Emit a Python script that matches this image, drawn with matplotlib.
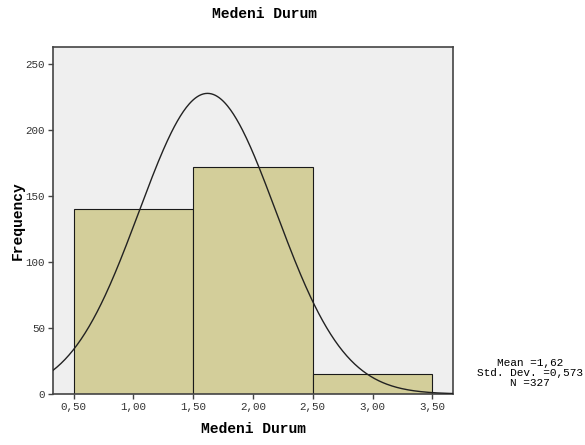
import numpy as np
import matplotlib
matplotlib.use("Agg")
import matplotlib.pyplot as plt

bin_edges = [0.5, 1.5, 2.5, 3.5]
counts = [140, 172, 15]
mean_val = 1.62
std_val = 0.573
n_val = 327
xticks = [0.5, 1.0, 1.5, 2.0, 2.5, 3.0, 3.5]
xtick_labels = ["0,50", "1,00", "1,50", "2,00", "2,50", "3,00", "3,50"]
yticks = [0, 50, 100, 150, 200, 250]

plt.rcParams['font.family'] = ['Liberation Mono', 'DejaVu Sans Mono']

fig = plt.figure(figsize=(5.85, 4.45), dpi=100)
ax = fig.add_axes([0.0906, 0.1146, 0.6838, 0.7804])
ax.set_facecolor('#EFEFEF')

widths = np.diff(bin_edges)
ax.bar(bin_edges[:-1], counts, width=widths, align='edge',
       color='#D3CE9A', edgecolor='#1a1a1a', linewidth=0.8, zorder=2)

xmin, xmax = 0.328, 3.673
xs = np.linspace(xmin, xmax, 400)
bw = widths[0]
ys = n_val * bw / (std_val * np.sqrt(2 * np.pi)) * np.exp(-0.5 * ((xs - mean_val) / std_val) ** 2)
ax.plot(xs, ys, color='#222222', linewidth=1.0, zorder=3)

ax.set_xlim(xmin, xmax)
ax.set_ylim(0, 263)
ax.set_xticks(xticks)
ax.set_xticklabels(xtick_labels)
ax.set_yticks(yticks)
ax.tick_params(axis='both', direction='out', length=3.6, width=1, color='#444444',
               labelsize=7.8, labelcolor='#333333', pad=2)
for s in ax.spines.values():
    s.set_color('#444444')
    s.set_linewidth(1.2)

ax.set_xlabel('Medeni Durum', fontsize=10.5, fontweight='bold', labelpad=7)
ax.set_ylabel('Frequency', fontsize=10.5, fontweight='bold', labelpad=1)
fig.text(265/585, 1 - 14/445, 'Medeni Durum', fontsize=10.5, fontweight='bold',
         ha='center', va='center')

fig.text(530/585, 1 - 373/445, 'Mean =1,62\nStd. Dev. =0,573\nN =327',
         fontsize=8, ha='center', va='center', linespacing=0.95, multialignment='center')

fig.savefig('out.png', dpi=100)
